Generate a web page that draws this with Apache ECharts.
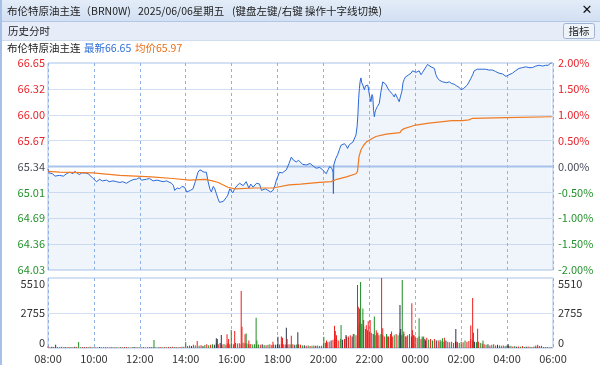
<!DOCTYPE html>
<html><head><meta charset="utf-8">
<script src="https://cdn.jsdelivr.net/npm/echarts@6/dist/echarts.min.js"></script>
<style>html,body{margin:0;padding:0;background:#fff}#c{width:600px;height:365px}</style>
</head><body><div id="c"></div>
<script>
// ---------- data ----------
const basePrice = 65.34165;
const xTickLabels = ['08:00','10:00','12:00','14:00','16:00','18:00','20:00','22:00','00:00','02:00','04:00','06:00'];
const priceTickLabels = ['64.03','64.36','64.69','65.01','65.34','65.67','66.00','66.32','66.65'];
const pctTickLabels = ['-2.00%','-1.50%','-1.00%','-0.50%','0.00%','0.50%','1.00%','1.50%','2.00%'];
const volTickLabels = ['0','2755','5510'];
const volMax = 5510;

const priceTimes = ['08:00','08:03','08:08','08:12','08:18','08:23','08:30','08:35','08:40','08:48','08:57','09:05','09:10','09:15','09:22','09:28','09:32','09:38','09:45','09:52','09:58','10:03','10:07','10:15','10:22','10:33','10:40','10:50','10:59','11:08','11:15','11:25','11:35','11:45','11:51','11:58','12:05','12:17','12:25','12:35','12:45','13:01','13:10','13:23','13:28','13:31','13:38','13:44','13:50','13:57','14:03','14:06','14:12','14:19','14:25','14:32','14:37','14:41','14:48','14:54','14:58','15:03','15:07','15:12','15:16','15:20','15:24','15:28','15:33','15:38','15:42','15:46','15:50','15:55','15:59','16:03','16:08','16:14','16:21','16:30','16:38','16:45','16:50','16:56','17:05','17:13','17:18','17:22','17:28','17:35','17:42','17:48','17:53','17:57','18:05','18:12','18:23','18:30','18:36','18:42','18:49','18:55','19:05','19:15','19:25','19:35','19:41','19:50','19:58','20:03','20:07','20:12','20:16','20:22','20:25','20:26','20:27','20:32','20:37','20:42','20:46','20:50','20:55','21:00','21:03','21:08','21:12','21:17','21:21','21:25','21:28','21:30','21:32','21:34','21:36','21:38','21:40','21:43','21:45','21:47','21:50','21:53','21:56','22:00','22:02','22:04','22:07','22:09','22:11','22:13','22:15','22:17','22:21','22:26','22:30','22:35','22:39','22:43','22:48','22:52','22:57','23:01','23:05','23:08','23:11','23:14','23:18','23:21','23:25','23:28','23:31','23:34','23:37','23:43','23:49','23:53','23:57','00:02','00:06','00:10','00:15','00:19','00:23','00:28','00:32','00:37','00:41','00:46','00:50','00:54','00:58','01:03','01:08','01:12','01:16','01:22','01:29','01:35','01:42','01:48','01:55','02:00','02:03','02:07','02:12','02:16','02:21','02:25','02:30','02:34','02:38','02:42','02:47','02:55','03:04','03:12','03:22','03:30','03:39','03:48','03:57','04:05','04:14','04:22','04:31','04:40','04:49','04:57','05:06','05:15','05:24','05:33','05:41','05:48','05:54','05:58'];
const priceValues = [65.31,65.26,65.27,65.25,65.22,65.20,65.23,65.21,65.22,65.25,65.27,65.25,65.28,65.27,65.24,65.26,65.24,65.26,65.25,65.22,65.19,65.17,65.15,65.18,65.16,65.17,65.15,65.16,65.15,65.14,65.15,65.13,65.16,65.18,65.18,65.20,65.17,65.18,65.19,65.16,65.17,65.15,65.16,65.13,65.10,65.04,65.07,65.06,65.09,65.08,65.02,65.00,65.04,65.06,65.15,65.27,65.30,65.30,65.27,65.27,65.16,65.06,65.02,65.09,65.06,65.00,64.94,64.89,64.87,64.90,64.89,64.95,64.98,65.06,65.08,65.01,65.06,65.10,65.13,65.10,65.15,65.07,65.12,65.08,65.13,65.12,65.04,65.02,65.06,65.04,65.02,65.04,65.10,65.17,65.27,65.26,65.30,65.38,65.46,65.42,65.40,65.42,65.37,65.36,65.38,65.34,65.32,65.33,65.30,65.28,65.25,65.30,65.34,65.32,65.27,65.00,65.36,65.44,65.49,65.56,65.61,65.60,65.63,65.60,65.57,65.62,65.61,65.65,65.63,65.74,65.85,65.99,66.20,66.33,66.42,66.46,66.40,66.37,66.35,66.31,66.36,66.38,66.37,66.25,66.20,66.16,66.25,66.22,66.05,65.97,66.03,66.06,66.10,66.14,66.28,66.41,66.43,66.38,66.33,66.30,66.29,66.25,66.22,66.26,66.28,66.20,66.16,66.22,66.29,66.40,66.44,66.47,66.48,66.50,66.52,66.55,66.56,66.53,66.52,66.55,66.50,66.53,66.54,66.60,66.63,66.61,66.60,66.60,66.58,66.50,66.46,66.43,66.44,66.41,66.42,66.40,66.41,66.39,66.38,66.36,66.34,66.31,66.29,66.33,66.34,66.37,66.39,66.45,66.50,66.55,66.57,66.57,66.58,66.57,66.57,66.56,66.56,66.54,66.52,66.51,66.48,66.50,66.52,66.55,66.58,66.59,66.60,66.59,66.59,66.61,66.62,66.61,66.62,66.62,66.65,66.65];

const avgTimes = ['08:00','08:30','09:57','11:08','12:30','13:26','14:10','14:50','15:10','15:25','15:50','16:08','17:00','17:48','18:30','19:00','19:50','20:20','20:35','21:00','21:25','21:29','21:33','21:38','21:45','21:52','22:05','22:17','22:44','23:20','23:24','23:31','23:57','00:36','01:36','02:03','02:20','02:30','03:57','05:58'];
const avgValues = [65.28,65.27,65.26,65.23,65.21,65.19,65.17,65.18,65.16,65.14,65.08,65.06,65.07,65.07,65.11,65.12,65.14,65.15,65.18,65.21,65.25,65.28,65.47,65.55,65.61,65.65,65.69,65.72,65.75,65.77,65.80,65.82,65.86,65.89,65.92,65.92,65.93,65.95,65.96,65.97];

// volume: 5-minute base bars per hour, direction r=up g=down b=flat
const volHours = ['08','09','10','11','12','13','14','15','16','17','18','19','20','21','22','23','00','01','02','03','04','05'];
const volBase = [
 [130,60,90,70,260,80,60,90,50,70,60,80],
 [70,60,90,80,470,60,80,50,70,60,90,60],
 [50,60,40,70,60,50,80,60,40,70,50,60],
 [60,40,70,50,60,80,50,40,60,70,50,60],
 [50,60,70,40,60,60,70,50,60,40,50,70],
 [60,80,50,70,60,90,70,80,60,70,90,100],
 [480,150,200,160,250,200,550,180,220,160,240,300],
 [220,260,300,250,350,300,400,280,320,260,380,300],
 [350,300,400,350,380,300,420,380,350,300,320,280],
 [300,260,280,250,300,240,220,260,300,240,280,250],
 [300,280,320,300,280,260,300,280,300,260,280,300],
 [250,200,220,180,200,160,180,200,170,190,160,180],
 [380,420,450,500,600,650,700,650,600,700,650,700],
 [900,800,1000,900,1100,1000,1800,2000,1900,1700,1500,1400],
 [1300,1200,1100,1000,1200,1000,1100,1000,900,1000,900,800],
 [900,1000,1100,1000,1200,1000,1100,900,1000,1100,900,1000],
 [900,800,900,700,800,700,800,650,700,600,700,600],
 [600,500,550,500,600,500,450,500,400,500,450,400],
 [500,450,600,500,550,700,600,500,450,500,400,350],
 [300,250,300,200,250,300,200,250,200,180,200,150],
 [200,150,180,120,150,100,120,100,150,80,100,120],
 [100,80,120,60,100,150,180,80,60,70,50,60]
];
const volBaseDirs = ['rgbrbgrgrbgr','grbrggrbrgrg','rgrbgrgrbrgr','grgrbrgrgbrg','rgrgrbrgrgbr','grgrbrgrgrgr','grgbrgrgrbgr','grgbgrbrgrrg','rgrgrrgrgbrg','grgrbgrgrrgb','brrgrbrgrbgr','rgbrgrgrbgrg','grgrbrrgrgbr','rgrbgrgbgrgr','grbrgrgbrgrg','rgrgbrgrgrbr','grgrgbrgrgrb','rgrgbrgrgbrg','grgrrrgbgrgr','rgbrgrgbrgrg','brgrgbrgrgbr','grgbrrrgbrgb'];
const spikeTimes = ['12:37','15:20','15:23','15:33','15:48','15:52','15:59','16:08','16:25','16:27','16:35','16:38','16:45','17:04','17:06','17:48','18:01','18:10','18:13','18:23','18:25','18:36','18:53','20:01','20:08','20:29','20:31','20:34','20:46','20:59','21:05','21:18','21:29','21:31','21:34','21:37','21:43','21:45','21:52','21:57','22:02','22:13','22:18','22:22','22:32','22:35','22:45','22:48','22:55','22:58','23:20','23:22','23:26','23:30','23:36','23:51','23:53','23:57','00:10','00:18','00:22','00:27','01:05','01:11','01:16','01:46','01:49','02:25','02:30','02:32','02:43','02:57','04:03','05:15','05:20'];
const spikeValues = [620,760,700,1020,1080,700,1420,1340,4490,1680,1080,1150,600,2390,600,500,890,900,800,1600,700,970,1230,890,600,1760,1340,1000,1810,1020,900,1100,4950,3250,3100,5200,3100,2200,1800,2100,2200,2470,1400,1200,5510,1550,1100,900,1100,1300,3380,1500,5350,1300,900,3520,1400,1000,2340,900,900,600,650,760,800,1500,500,1780,3940,1200,1520,600,300,200,250];
const spikeDirs = 'gbgbrrgrrrrgrggrbrrbrrbgrrrrgbrrrrrgg' + 'rrrrgrrrrgrrrbbgrrrrrggrbggrbrrrrrgbrr';

// ---------- helpers ----------
function toMin(t){ let h=+t.slice(0,2), m=+t.slice(3,5); if(h<8) h+=24; return (h-8)*60+m; }
function pct(p){ return (p/basePrice-1)*100; }
const RED='#e8232a', GREEN='#23912b', GRAY='#454b57';
const dirColor = {r:'#ee1c1c', g:'#1f8f26', b:'#2b3244'};
const lblColor = v => { v=parseFloat(v); return v>1e-6?RED:(v<-1e-6?GREEN:GRAY); };

const priceData = priceTimes.map((t,i)=>[toMin(t), pct(priceValues[i])]);
const avgData = avgTimes.map((t,i)=>[toMin(t), pct(avgValues[i])]);
const volData = [];
volHours.forEach((h,hi)=>{
  volBase[hi].forEach((v,k)=>{
    const t = h+':'+String(k*5).padStart(2,'0');
    volData.push({value:[toMin(t), v], itemStyle:{color:dirColor[volBaseDirs[hi][k]]}});
  });
});
spikeTimes.forEach((t,i)=>{
  volData.push({value:[toMin(t), spikeValues[i]], itemStyle:{color:dirColor[spikeDirs[i]]}});
});

const FONT = "'Noto Sans CJK SC','Noto Sans',sans-serif";
const HF = "10.5px 'Noto Sans CJK SC'";
const chart = echarts.init(document.getElementById('c'), null, {renderer:'canvas'});
const xCommon = {type:'value', min:0, max:1320, interval:120,
  axisLine:{show:false}, axisTick:{show:false},
  splitLine:{show:true, lineStyle:{color:'#8fb1e3', type:[3,3], width:1}}};

chart.setOption({
  animation:false,
  backgroundColor:'#ffffff',
  textStyle:{fontFamily:FONT},
  grid:[
    {left:48, right:47, top:63, height:207, show:true, borderColor:'#a9c2e8', borderWidth:1, backgroundColor:'#ffffff'},
    {left:48, right:47, top:278, height:70, show:true, borderColor:'#a9c2e8', borderWidth:1, backgroundColor:'#ffffff'}
  ],
  xAxis:[
    Object.assign({gridIndex:0, axisLabel:{show:false}}, xCommon),
    Object.assign({gridIndex:1, axisLabel:{show:true, color:'#333', fontSize:11, margin:5, fontFamily:FONT,
      formatter:v=>xTickLabels[Math.round(v/120)]}}, xCommon)
  ],
  yAxis:[
    {type:'value', gridIndex:0, position:'left', min:-2, max:2, interval:0.5,
     axisLine:{show:false}, axisTick:{show:false},
     splitLine:{show:true, lineStyle:{color:'#d3e0f3', width:1}},
     axisLabel:{fontSize:11, margin:3, fontFamily:FONT, color:lblColor,
       formatter:v=>priceTickLabels[Math.round((v+2)/0.5)]}},
    {type:'value', gridIndex:0, position:'right', min:-2, max:2, interval:0.5,
     axisLine:{show:false}, axisTick:{show:false}, splitLine:{show:false},
     axisLabel:{fontSize:11, margin:5, fontFamily:FONT, color:lblColor,
       formatter:v=>pctTickLabels[Math.round((v+2)/0.5)]}},
    {type:'value', gridIndex:1, position:'left', min:0, max:volMax, interval:volMax/2,
     axisLine:{show:false}, axisTick:{show:false},
     splitLine:{show:true, lineStyle:{color:'#d3e0f3', width:1}},
     axisLabel:{fontSize:11, margin:3, fontFamily:FONT, color:'#333',
       verticalAlignMaxLabel:'top', verticalAlignMinLabel:'bottom',
       formatter:v=>volTickLabels[Math.round(v/(volMax/2))]}},
    {type:'value', gridIndex:1, position:'right', min:0, max:volMax, interval:volMax/2,
     axisLine:{show:false}, axisTick:{show:false}, splitLine:{show:false},
     axisLabel:{fontSize:11, margin:5, fontFamily:FONT, color:'#333',
       verticalAlignMaxLabel:'top', verticalAlignMinLabel:'bottom',
       formatter:v=>volTickLabels[Math.round(v/(volMax/2))]}}
  ],
  series:[
    {type:'line', xAxisIndex:0, yAxisIndex:0, data:[[0,0],[1320,0]], symbol:'none', silent:true, z:1,
     lineStyle:{color:'#a9c3ea', width:2}},
    {type:'line', xAxisIndex:0, yAxisIndex:0, data:priceData, symbol:'none', z:3,
     lineStyle:{color:'#2a68d6', width:1},
     areaStyle:{origin:'start', color:'rgba(150,182,232,0.2)'}},
    {type:'line', xAxisIndex:0, yAxisIndex:0, data:avgData, symbol:'none', z:4,
     lineStyle:{color:'#f07a22', width:1.2}},
    {type:'bar', xAxisIndex:1, yAxisIndex:2, data:volData, barWidth:1, z:3}
  ],
  graphic:[
    {type:'rect', shape:{x:0,y:0,width:600,height:21}, style:{fill:new echarts.graphic.LinearGradient(0,0,0,1,[{offset:0,color:'#e3ecf8'},{offset:1,color:'#d3e0f2'}])}, z:0},
    {type:'rect', shape:{x:0,y:21,width:600,height:1}, style:{fill:'#b3c8e6'}},
    {type:'rect', shape:{x:0,y:22,width:600,height:18}, style:{fill:'#e6edf8'}},
    {type:'rect', shape:{x:0,y:40,width:600,height:1}, style:{fill:'#d0ddef'}},
    {type:'rect', shape:{x:0,y:0,width:2,height:365}, style:{fill:'#a7c0e8'}},
    {type:'text', x:7, y:11, style:{text:'布伦特原油主连（BRN0W)', font:HF, fill:'#222', verticalAlign:'middle'}},
    {type:'text', x:138, y:11, style:{text:'2025/06/06星期五', font:HF, fill:'#222', verticalAlign:'middle'}},
    {type:'text', x:232, y:11, style:{text:'(键盘左键/右键 操作十字线切换)', font:HF, fill:'#222', verticalAlign:'middle'}},
    {type:'text', x:587, y:11, style:{text:'✕', font:"bold 13px 'DejaVu Sans'", fill:'#111', align:'center', verticalAlign:'middle'}},
    {type:'text', x:8, y:31, style:{text:'历史分时', font:HF, fill:'#222', verticalAlign:'middle'}},
    {type:'rect', shape:{x:563.5,y:23.5,width:31,height:15,r:2}, style:{fill:'#eef3fa', stroke:'#9fb4d2', lineWidth:1}},
    {type:'text', x:579, y:31, style:{text:'指标', font:HF, fill:'#222', align:'center', verticalAlign:'middle'}},
    {type:'text', x:7, y:48, style:{text:'布伦特原油主连', font:HF, fill:'#222', verticalAlign:'middle'}},
    {type:'text', x:84, y:48, style:{text:'最新66.65', font:HF, fill:'#2f6fd8', verticalAlign:'middle'}},
    {type:'text', x:135, y:48, style:{text:'均价65.97', font:HF, fill:'#ea6f17', verticalAlign:'middle'}}
  ]
});
</script></body></html>
